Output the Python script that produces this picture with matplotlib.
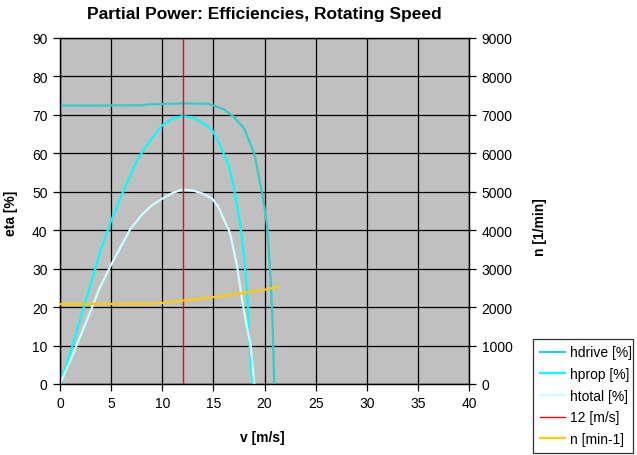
import matplotlib
matplotlib.use("Agg")
import matplotlib.pyplot as plt
from matplotlib.lines import Line2D

plt.rcParams['font.family'] = ['Liberation Sans', 'DejaVu Sans']

# Data
v_drive = [0, 8, 8.5, 12, 14.5, 16, 17, 18, 19, 19.6, 20.0, 20.3, 20.6, 20.8, 20.95]
hdrive = [72.4, 72.5, 72.7, 73.0, 72.9, 71.5, 69.5, 66.5, 60, 52, 46, 40, 27, 15, 0]

v_prop = [0, 1, 2, 2.85, 4, 5, 6, 7, 7.7, 9, 10, 11, 12, 13, 14, 14.9, 15.5, 16, 16.5,
          17, 17.6, 18, 18.3, 18.5, 18.7, 18.85]
hprop = [0, 8, 17, 24.7, 35, 42.5, 49, 55, 59, 64, 67.3, 69, 69.7, 69.3, 67.8, 66, 63, 60, 57,
         51, 42, 33, 24, 12, 4, 0]

v_total = [0, 1, 2, 3, 3.83, 5, 6, 6.9, 8, 9, 10, 11, 12, 13, 14, 14.9, 15.5, 16, 16.6,
           17.3, 17.8, 18.2, 18.65, 19.0]
htotal = [0, 6, 12.5, 19, 24.7, 31, 36, 40.4, 44, 46.5, 48.2, 49.7, 50.6, 50.3, 49.5, 48.2,
          46, 43, 39.5, 31, 22, 16, 10, 0]

v_line = [12, 12]
eta_line = [0, 90]

v_n = [0, 5, 9, 10, 11, 12, 13, 14, 15, 16, 17, 18, 19, 20, 21.3]
n_rpm = [2080, 2085, 2090, 2110, 2140, 2170, 2200, 2230, 2260, 2290, 2330, 2370, 2410, 2450, 2530]

x_ticks = [0, 5, 10, 15, 20, 25, 30, 35, 40]
y_ticks = [0, 10, 20, 30, 40, 50, 60, 70, 80, 90]
n_ticks = [0, 1000, 2000, 3000, 4000, 5000, 6000, 7000, 8000, 9000]

labels = ['hdrive [%]', 'hprop [%]', 'htotal [%]', '12 [m/s]', 'n [min-1]']
colors = ['#33CCCC', '#00FFFF', '#CCFFFF', '#FF0000', '#FFCC00']

W, H = 637, 456
fig = plt.figure(figsize=(W / 100, H / 100), dpi=100)
fig.patch.set_facecolor('white')
L, R, T, B = 60, 469, 39, 385
ax = fig.add_axes([L / W, 1 - B / H, (R - L) / W, (B - T) / H])
ax.set_facecolor('#C0C0C0')

lw = 1.6
ax.plot(v_drive, hdrive, color=colors[0], lw=lw, zorder=3)
ax.plot(v_prop, hprop, color=colors[1], lw=lw, zorder=3)
ax.plot(v_total, htotal, color=colors[2], lw=lw, zorder=3)
ax.plot(v_line, eta_line, color=colors[3], lw=1.0, zorder=3, snap=True)

ax.set_xlim(0, 40)
ax.set_ylim(0, 90)
ax.set_xticks(x_ticks)
ax.set_yticks(y_ticks)
ax.grid(True, color='black', lw=0.9, zorder=1)
ax.set_axisbelow(True)
for s in ax.spines.values():
    s.set_color('black')
    s.set_linewidth(0.9)
ax.tick_params(direction='out', length=5, width=0.9, labelsize=10, colors='black', pad=4)

ax2 = ax.twinx()
ax2.plot(v_n, n_rpm, color=colors[4], lw=lw, zorder=3)
ax2.set_ylim(0, 9000)
ax2.set_yticks(n_ticks)
ax2.tick_params(direction='out', length=5, width=0.9, labelsize=10, colors='black', pad=4)
for s in ax2.spines.values():
    s.set_color('black')
    s.set_linewidth(0.9)

ax.set_xlabel('v [m/s]', fontsize=10, fontweight='bold', va='center', ha='center')
ax.xaxis.set_label_coords((262 - L) / (R - L), -(438 - B) / (B - T))
ax.set_ylabel('eta [%]', fontsize=10, fontweight='bold', va='center', ha='center')
ax.yaxis.set_label_coords(-(L - 11) / (R - L), (B - 213) / (B - T))
ax2.set_ylabel('n [1/min]', fontsize=10, fontweight='bold', va='center', ha='center')
ax2.yaxis.set_label_coords((540 - L) / (R - L), (B - 227) / (B - T))

fig.text((L + R) / 2 / W, 1 - 14 / H, 'Partial Power: Efficiencies, Rotating Speed',
         ha='center', va='center', fontsize=12.5, fontweight='bold')

handles = [Line2D([], [], color=c, lw=(1.0 if i == 3 else lw)) for i, c in enumerate(colors)]
leg = fig.legend(handles, labels, loc='lower left',
                 bbox_to_anchor=(533 / W, 1 - 454 / H, (633 - 533) / W, (454 - 338) / H),
                 mode='expand', fontsize=10, frameon=True, fancybox=False,
                 handlelength=1.8, handletextpad=0.4, borderpad=0.5, labelspacing=0.55,
                 borderaxespad=0)
leg.get_frame().set_edgecolor('black')
leg.get_frame().set_linewidth(0.9)

fig.savefig('out.png', dpi=100)
